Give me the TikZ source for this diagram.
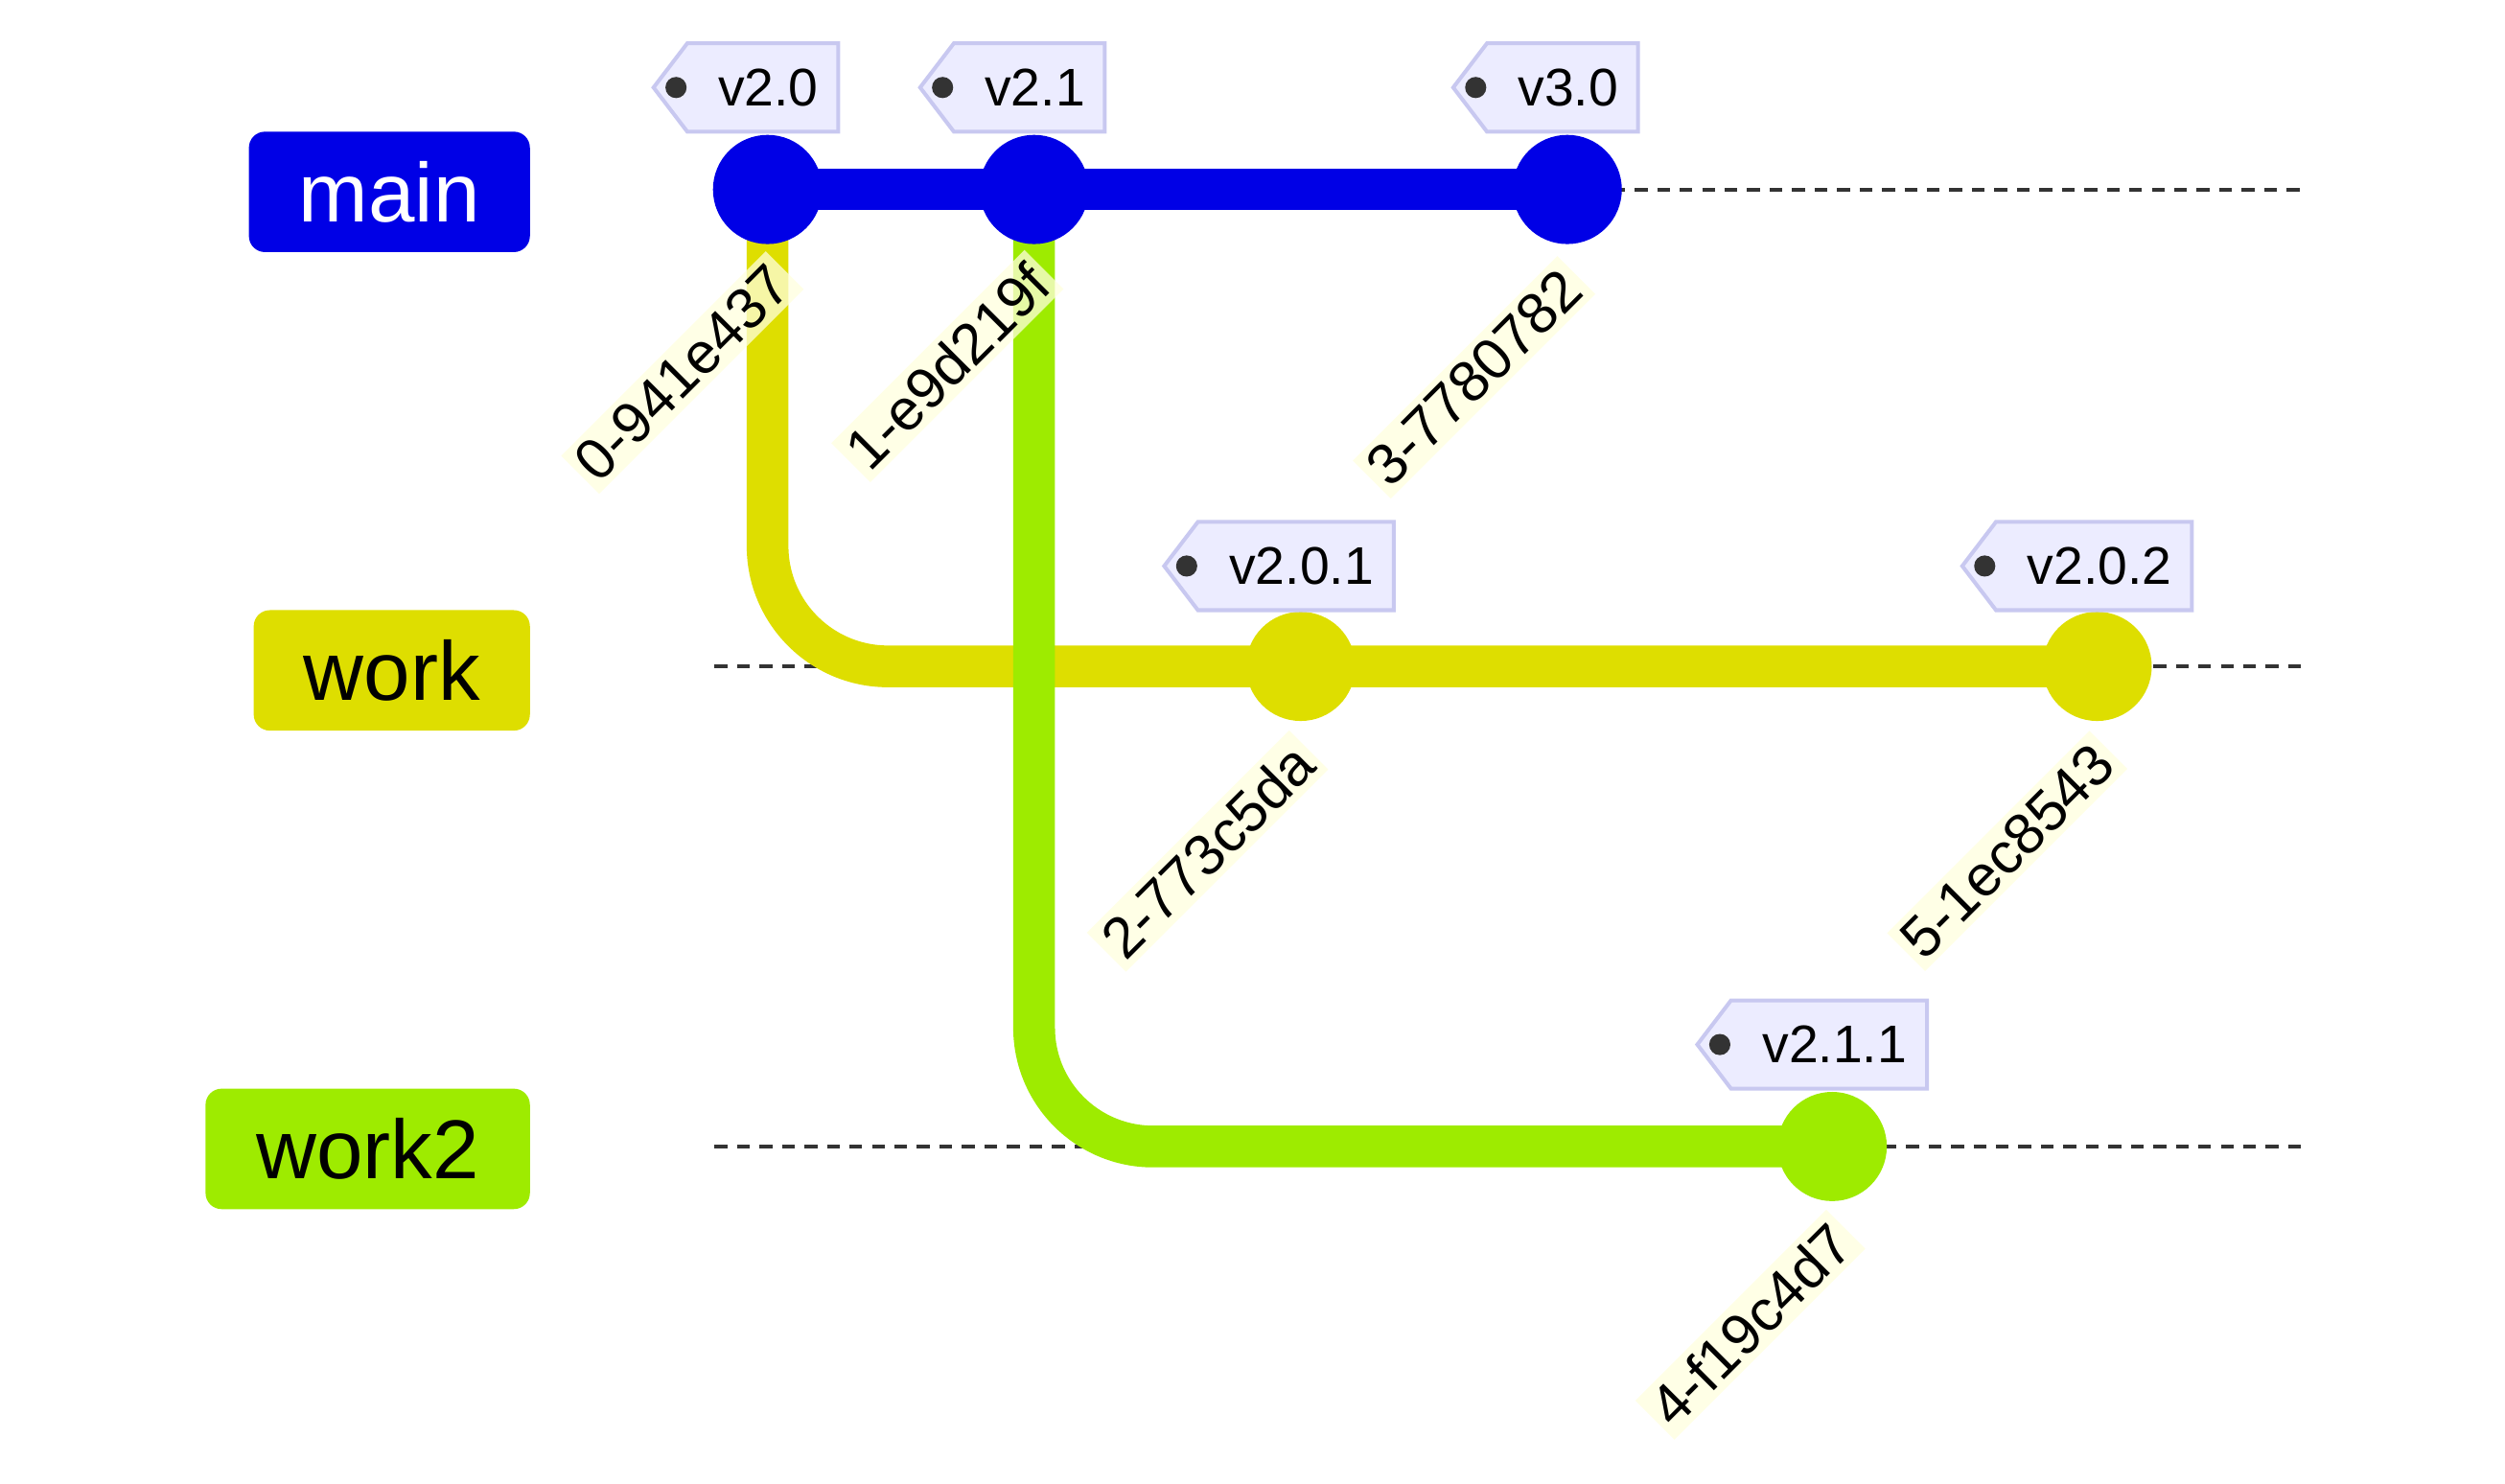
\documentclass[tikz,border=0pt]{standalone}
\usepackage{fontspec}
\setmainfont{Liberation Sans}
\definecolor{cmain}{HTML}{0000E6}
\definecolor{cwork}{HTML}{DEDE00}
\definecolor{cwork2}{HTML}{9EEB00}
\definecolor{tagfill}{HTML}{ECECFF}
\definecolor{tagdraw}{HTML}{C8C8F0}
\definecolor{lblfill}{HTML}{FFFFDE}
\begin{document}
\begin{tikzpicture}[x=0.5pt,y=-0.5pt,
  brlabel/.style={rounded corners=5pt,minimum height=37.5pt,inner xsep=0pt,font=\fontsize{26}{30}\selectfont},
  brline/.style={line width=13pt},
  commitdot/.style={circle,minimum size=34pt,inner sep=0pt},
  lane/.style={line width=1.2pt,draw=black!80,dash pattern=on 4pt off 3pt},
  commitlbl/.style={rotate=45,fill=lblfill,fill opacity=0.75,text opacity=1,font=\fontsize{18}{20}\selectfont,inner sep=2pt},
  tagtext/.style={font=\fontsize{16.5}{18}\selectfont}]
\useasboundingbox (0,0) rectangle (1560,924);
% branch labels
\node[brlabel,fill=cmain,text=white,minimum width=87.5pt] (bmain) at (242.5,119.5) {main};
\node[brlabel,fill=cwork,text=black,minimum width=86pt] (bwork) at (244,417.5) {work};
\node[brlabel,fill=cwork2,text=black,minimum width=101pt] (bwork2) at (229,715.5) {work2};
% commit coordinates
\coordinate (c0) at (478,118);
\coordinate (c1) at (644,118);
\coordinate (c3) at (976,118);
\coordinate (c2) at (810,415);
\coordinate (c5) at (1306,415);
\coordinate (c4) at (1141,714);
\coordinate (e1) at (1435,118);
\coordinate (w0) at (445,415);
\coordinate (e2) at (1435,415);
\coordinate (w20) at (445,714);
\coordinate (e3) at (1435,714);
% dashed lanes
\draw[lane] (c3) -- (e1);
\draw[lane] (w0) -- (e2);
\draw[lane] (w20) -- (e3);
% branch lines
\draw[brline,draw=cwork] (c0) -- (478,340) arc[start angle=180,end angle=90,radius=75] -- (c2) -- (c5);
\draw[brline,draw=cwork2] (c1) -- (644,640) arc[start angle=180,end angle=90,radius=74] -- (c4);
\draw[brline,draw=cmain] (c0) -- (c1) -- (c3);
% commits
\foreach \c/\col in {c0/cmain,c1/cmain,c3/cmain,c2/cwork,c5/cwork,c4/cwork2}
  \node[commitdot,fill=\col] (n\c) at (\c) {};
% commit labels
\node[commitlbl] (l0) at (425,232) {0-941e437};
\node[commitlbl] (l1) at (590,228) {1-e9d219f};
\node[commitlbl] (l3) at (918,235) {3-7780782};
\node[commitlbl] (l2) at (752,530) {2-773c5da};
\node[commitlbl] (l5) at (1250,530) {5-1ec8543};
\node[commitlbl] (l4) at (1090,825) {4-f19c4d7};
% tags
\foreach \xa/\xb/\yc/\t in {407/522/54.5/v2.0, 573/688/54.5/v2.1, 905/1020/54.5/v3.0, 725/868/352.5/v2.0.1, 1222/1365/352.5/v2.0.2, 1057/1200/650.5/v2.1.1}{
  \draw[fill=tagfill,draw=tagdraw,line width=1.2pt] (\xa,\yc) -- (\xa+21,\yc-27.5) -- (\xb,\yc-27.5) -- (\xb,\yc+27.5) -- (\xa+21,\yc+27.5) -- cycle;
  \fill[black!80] (\xa+14,\yc) circle (3.3pt);
  \node[tagtext,anchor=center] at ({(\xa+28+\xb)/2},\yc) {\t};
}
\end{tikzpicture}
\end{document}
